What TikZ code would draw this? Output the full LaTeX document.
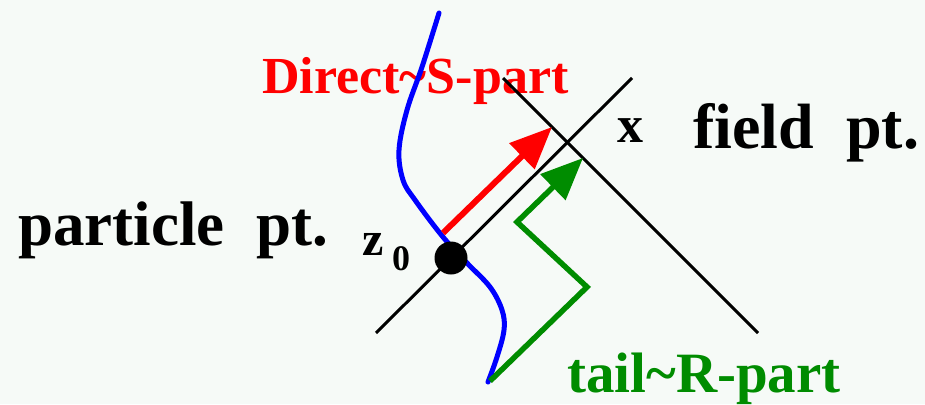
\documentclass[tikz,border=0pt]{standalone}
\usepackage{fontspec}
\setmainfont{Liberation Serif}
\usetikzlibrary{arrows.meta}
\definecolor{bg}{RGB}{246,250,247}
\definecolor{dgreen}{RGB}{0,140,0}
\begin{document}
\begin{tikzpicture}[x=1pt,y=-1pt,
  lbl/.style={inner sep=0pt, anchor=base west},
  axis/.style={black, line width=3pt},
  bighead/.style={-{Triangle[length=42pt 0 0,width=35pt 0 0]}}]
\fill[bg] (0,0) rectangle (925,404);
\useasboundingbox (0,0) rectangle (925,404);
% labels
\node[lbl, text=red, font=\bfseries\fontsize{52}{60}\selectfont] (direct) at (262,93) {Direct\textasciitilde S-part};
\node[lbl, font=\bfseries\fontsize{63}{70}\selectfont] (particle) at (18,245) {particle\hspace{0.5em}pt.};
\node[lbl, font=\bfseries\fontsize{64}{70}\selectfont] (field) at (693,148) {field\hspace{0.5em}pt.};
\node[lbl, font=\bfseries\fontsize{52}{60}\selectfont] (xlbl) at (617,142) {x};
\node[lbl, font=\bfseries\fontsize{48}{60}\selectfont] (zlbl) at (362,255) {z};
\node[lbl, font=\bfseries\fontsize{36}{40}\selectfont] (zero) at (392,270) {0};
\node[lbl, text=dgreen, font=\bfseries\fontsize{57}{60}\selectfont] (tail) at (567,392) {tail\textasciitilde R-part};
% light-cone lines
\coordinate (l1a) at (376,333);
\coordinate (l1b) at (632,78);
\coordinate (l2a) at (503,78);
\coordinate (l2b) at (758,333);
\draw[axis] (l1a) -- (l1b);
\draw[axis] (l2a) -- (l2b);
% world line
\draw[blue, line width=5pt, line cap=round] plot[smooth, tension=0.6] coordinates
  {(439,13) (422,67) (407,110) (399,150) (403,180) (415,200) (443,237) (467,263) (490,287) (502,310) (504,330) (497,357) (488,382)};
% direct part
\coordinate (rs) at (443,233);
\coordinate (re) at (552,127);
\draw[red, line width=6pt, bighead] (rs) -- (re);
% tail part
\coordinate (g0) at (490,381);
\coordinate (g1) at (587,287);
\coordinate (g2) at (517,222);
\coordinate (g3) at (583,158);
\draw[dgreen, line width=5.5pt, line join=miter, bighead] (g0) -- (g1) -- (g2) -- (g3);
% particle point
\node[circle, fill=black, minimum size=33pt, inner sep=0pt] (z0) at (451,258) {};
\end{tikzpicture}
\end{document}
